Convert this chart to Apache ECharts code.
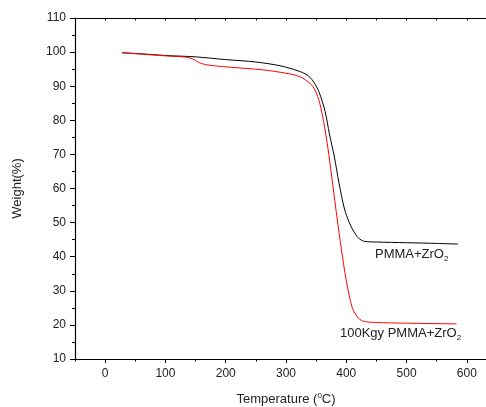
<!DOCTYPE html>
<html>
<head>
<meta charset="utf-8">
<script src="https://cdn.jsdelivr.net/npm/echarts@6/dist/echarts.min.js"></script>
<style>
  html, body { margin: 0; padding: 0; background: #fff; }
  #chart { width: 486px; height: 407px; }
</style>
</head>
<body>
<div id="chart"></div>
<script>
// PMMA+ZrO2 (black)
var tempPlain = [28, 60, 100, 150, 200, 250, 290, 320, 335, 345, 355, 365, 372, 380, 388, 397, 405, 412, 420, 430, 450, 500, 550, 585];
var weightPlain = [99.8, 99.5, 99.0, 98.6, 97.8, 97.1, 96.0, 94.5, 93.3, 91.5, 88.2, 82.5, 76.0, 69.5, 61.5, 54.0, 50.0, 47.5, 45.5, 44.5, 44.3, 44.1, 43.9, 43.7];
// 100Kgy PMMA+ZrO2 (red)
var tempIrr = [28, 60, 100, 135, 145, 155, 165, 180, 212, 261, 300, 323, 340, 348, 356, 364, 371, 378, 385, 392, 400, 410, 420, 430, 450, 500, 583];
var weightIrr = [99.8, 99.4, 98.9, 98.5, 98.0, 97.0, 96.4, 96.0, 95.5, 94.8, 93.8, 92.8, 90.8, 88.9, 85.0, 78.0, 70.0, 60.5, 51.0, 42.0, 33.0, 25.0, 22.0, 21.0, 20.7, 20.5, 20.3];

var xMajor = [0, 100, 200, 300, 400, 500, 600];
var xMinor = [-50, 50, 150, 250, 350, 450, 550, 650];

function pairs(xs, ys) {
  return xs.map(function (x, i) { return [x, ys[i]]; });
}

var myChart = echarts.init(document.getElementById('chart'));
var font = 'Liberation Sans, Arial, sans-serif';
var option = {
  animation: false,
  grid: { left: 75, top: 18, width: 422, height: 341, outerBoundsMode: 'none', containLabel: false },
  xAxis: [
    {
      type: 'value', min: -50, max: 650, interval: 50,
      position: 'bottom',
      name: 'Temperature ({sup|0}C)',
      nameLocation: 'middle',
      nameGap: 33,
      nameTextStyle: {
        color: '#222', fontSize: 13, fontFamily: font,
        rich: { sup: { fontSize: 8, verticalAlign: 'top', padding: [0, 0, 6, 0], color: '#222', fontFamily: font } }
      },
      axisLine: { show: true, onZero: false, lineStyle: { color: '#000', width: 1.2 } },
      axisTick: { show: true, inside: false, length: 4, customValues: xMajor, lineStyle: { color: '#000' } },
      axisLabel: { customValues: xMajor, color: '#222', fontSize: 12, fontFamily: font, margin: 9 },
      splitLine: { show: false }
    },
    {
      type: 'value', min: -50, max: 650, interval: 50,
      position: 'bottom',
      axisLine: { show: false },
      axisTick: { show: true, inside: false, length: 2.5, customValues: xMinor, lineStyle: { color: '#000' } },
      axisLabel: { show: false },
      splitLine: { show: false }
    },
    {
      type: 'value', min: -50, max: 650, interval: 50,
      position: 'top',
      axisLine: { show: true, onZero: false, lineStyle: { color: '#000', width: 1.2 } },
      axisTick: { show: true, inside: true, length: 2.5, lineStyle: { color: '#000' } },
      axisLabel: { show: false },
      splitLine: { show: false }
    }
  ],
  yAxis: {
    type: 'value', min: 10, max: 110, interval: 10,
    name: 'Weight(%)',
    nameLocation: 'middle',
    nameGap: 51,
    nameTextStyle: { color: '#222', fontSize: 13, fontFamily: font },
    axisLine: { show: true, onZero: false, lineStyle: { color: '#000', width: 1.2 } },
    axisTick: { show: true, inside: false, length: 5, lineStyle: { color: '#000' } },
    minorTick: { show: true, splitNumber: 2, length: 3, lineStyle: { color: '#000' } },
    axisLabel: { color: '#222', fontSize: 12, fontFamily: font, margin: 9 },
    splitLine: { show: false }
  },
  series: [
    {
      name: 'PMMA+ZrO2',
      type: 'line',
      xAxisIndex: 0,
      data: pairs(tempPlain, weightPlain),
      showSymbol: false,
      smooth: 0.3,
      lineStyle: { color: '#000', width: 1 }
    },
    {
      name: '100Kgy PMMA+ZrO2',
      type: 'line',
      xAxisIndex: 0,
      data: pairs(tempIrr, weightIrr),
      showSymbol: false,
      smooth: 0.3,
      lineStyle: { color: '#ff0000', width: 1 }
    }
  ],
  graphic: [
    {
      type: 'text', left: 375, top: 248,
      style: {
        text: 'PMMA+ZrO{sub|2}', fill: '#222', fontSize: 13, fontFamily: font,
        rich: { sub: { fontSize: 8, verticalAlign: 'bottom', padding: [8, 0, 0, 0], fill: '#222', fontFamily: font } }
      }
    },
    {
      type: 'text', left: 340, top: 327,
      style: {
        text: '100Kgy PMMA+ZrO{sub|2}', fill: '#222', fontSize: 13, fontFamily: font,
        rich: { sub: { fontSize: 8, verticalAlign: 'bottom', padding: [8, 0, 0, 0], fill: '#222', fontFamily: font } }
      }
    }
  ]
};
myChart.setOption(option);
</script>
</body>
</html>
